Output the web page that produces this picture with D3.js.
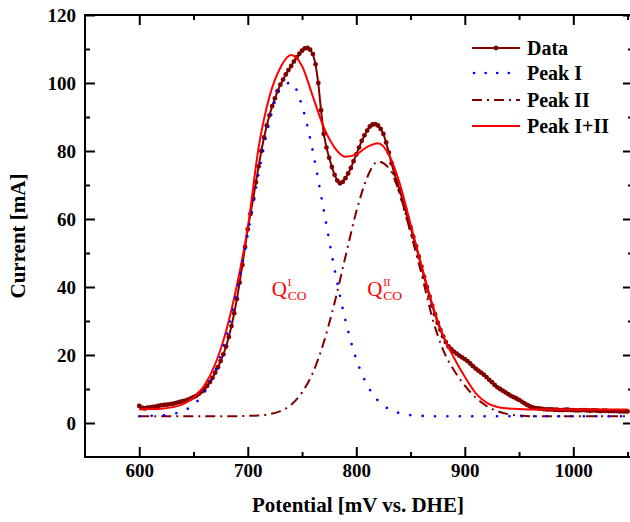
<!DOCTYPE html>
<html>
<head>
<meta charset="utf-8">
<script src="https://cdn.jsdelivr.net/npm/d3@7"></script>
<style>
body { margin: 0; background: #fff; }
</style>
</head>
<body>
<div id="chart"></div>
<script>
// chart values
var dataPts = [
  [600,5.0],[602.5,4.5],[605,4.3],[607.5,4.5],[610,4.6],[612.5,4.7],[615,4.8],[617.5,5.0],[620,5.2],[622.5,5.3],
  [625,5.4],[627.5,5.5],[630,5.6],[632.5,5.8],[635,6.0],[637.5,6.2],[640,6.4],[642.5,6.6],[645,6.9],[647.5,7.2],
  [650,7.6],[652.5,8.0],[655,8.6],[657.5,9.2],[660,10.0],[662.5,10.9],[665,12.0],[667.5,13.3],[670,14.8],[672.5,16.4],
  [675,18.2],[677.5,20.2],[680,22.5],[682.5,25.3],[685,28.5],[687.5,32.3],[690,36.5],[692.5,41.3],[695,46.5],[697.5,51.8],
  [700,57.0],[702.5,61.5],[705,66.0],[707.5,70.8],[710,75.5],[712.5,80.0],[715,84.0],[717.5,87.5],[720,90.5],[722.5,93.2],
  [725,95.5],[727.5,97.6],[730,99.5],[732.5,101.0],[735,102.5],[737.5,103.8],[740,105.0],[742.5,106.3],[745,107.5],[747.5,108.6],
  [750,109.5],[752.5,110.2],[755,110.3],[757.5,109.8],[760,108.5],[762.5,105.5],[765,100.0],[767.5,92.0],[770,85.0],[772.5,81.0],
  [775,78.0],[777.5,75.3],[780,73.0],[782.5,71.3],[785,70.5],[787.5,70.9],[790,72.0],[792.5,73.4],[795,75.0],[797.5,77.0],
  [800,79.0],[802.5,81.0],[805,83.0],[807.5,84.6],[810,86.0],[812.5,87.2],[815,87.8],[817.5,87.9],[820,87.5],[822.5,86.5],
  [825,85.0],[827.5,82.5],[830,79.5],[832.5,76.4],[835,73.5],[837.5,71.0],[840,68.5],[842.5,65.8],[845,63.0],[847.5,60.2],
  [850,57.5],[852.5,54.8],[855,52.0],[857.5,49.0],[860,46.0],[862.5,43.0],[865,40.0],[867.5,37.2],[870,34.5],[872.5,32.0],
  [875,29.5],[877.5,27.4],[880,25.5],[882.5,23.8],[885,22.5],[887.5,21.7],[890,21.0],[892.5,20.4],[895,19.8],[897.5,19.3],
  [900,18.8],[902.5,18.2],[905,17.5],[907.5,16.7],[910,16.0],[912.5,15.4],[915,14.8],[917.5,14.2],[920,13.5],[922.5,12.7],
  [925,12.0],[927.5,11.2],[930,10.5],[932.5,10.0],[935,9.5],[937.5,9.0],[940,8.5],[942.5,8.0],[945,7.6],[947.5,7.2],
  [950,6.8],[952.5,6.3],[955,5.8],[957.5,5.3],[960,4.9],[962.5,4.6],[965,4.4],[967.5,4.3],[970,4.2],[972.5,4.1],
  [975,4.0],[977.5,4.0],[980,4.0],[982.5,3.9],[985,3.9],[987.5,3.8],[990,3.8],[992.5,3.9],[995,3.9],[997.5,3.8],
  [1000,3.8],[1002.5,3.7],[1005,3.7],[1007.5,3.8],[1010,3.8],[1012.5,3.7],[1015,3.6],[1017.5,3.7],[1020,3.7],[1022.5,3.6],
  [1025,3.5],[1027.5,3.6],[1030,3.6],[1032.5,3.5],[1035,3.5],[1037.5,3.5],[1040,3.5],[1042.5,3.4],[1045,3.4],[1047.5,3.4],
  [1050,3.4]
];

var peak1Pts = [
  [600,2.0],[610,2.1],[620,2.2],[630,2.6],[640,3.5],[650,5.4],[660,9.0],[670,15.3],[680,25.2],[690,38.8],
  [700,55.5],[710,73.2],[720,88.6],[730,98.4],[740,100.1],[750,93.3],[760,79.8],[770,62.6],[780,45.2],[790,30.2],
  [800,18.8],[810,11.2],[820,6.6],[830,4.1],[840,2.9],[850,2.3],[860,2.1],[870,2.0],[900,2.0],[950,2.0],
  [1000,2.0],[1050,2.0]
];

var peak2Pts = [
  [600,2.0],[650,2.0],[690,2.0],[700,2.1],[710,2.2],[720,2.6],[730,3.5],[740,5.4],[750,9.0],[760,14.8],
  [770,23.7],[780,35.4],[790,48.9],[800,62.1],[810,72.2],[820,76.9],[830,75.0],[840,67.5],[850,56.0],[860,44.0],
  [870,31.0],[880,21.5],[890,15.5],[900,11.0],[910,7.5],[920,5.0],[930,3.5],[940,2.6],[950,2.2],[960,2.0],
  [1000,2.0],[1050,2.0]
];

var fitPts = [
  [600,4.0],[610,4.1],[620,4.2],[630,4.6],[640,5.5],[650,7.4],[660,11.0],[670,17.3],[680,27.0],[690,40.5],
  [700,57.5],[710,81.0],[720,96.0],[730,104.5],[740,108.2],[750,105.0],[760,96.0],[770,87.0],[780,81.0],[790,78.3],
  [800,79.0],[810,81.2],[820,82.3],[830,79.0],[840,70.5],[850,58.5],[860,46.5],[870,35.0],[880,25.8],[890,19.2],
  [900,13.6],[910,8.8],[920,6.0],[930,4.7],[940,4.3],[950,4.1],[960,4.0],[1000,4.0],[1050,4.0]
];

var xMajor = [600, 700, 800, 900, 1000];
var xMinor = [650, 750, 850, 950, 1050];
var yMajor = [0, 20, 40, 60, 80, 100, 120];
var yMinor = [10, 30, 50, 70, 90, 110];

var seriesNames = ["Data", "Peak I", "Peak II", "Peak I+II"];

var serif = "'Liberation Serif', 'Times New Roman', serif";

var svg = d3.select("#chart")
    .append("svg")
    .attr("width", 630)
    .attr("height", 522);

//scales
var x = d3.scaleLinear().domain([550, 1055]).range([85, 633]);
var y = d3.scaleLinear().domain([-10, 120]).range([457, 15]);

//axes
function styleAxis(g) {
    g.select(".domain").remove();
    g.attr("font-family", serif).attr("font-size", 19).attr("font-weight", "bold");
    g.selectAll("line").attr("stroke-width", 2);
}

svg.append("g").attr("transform", "translate(0,457)")
    .call(d3.axisBottom(x).tickValues(xMajor).tickSize(-10).tickSizeOuter(0).tickPadding(7).tickFormat(d3.format("d")))
    .call(styleAxis);
svg.append("g").attr("transform", "translate(0,457)")
    .call(d3.axisBottom(x).tickValues(xMinor).tickSize(-5).tickFormat(""))
    .call(styleAxis);
svg.append("g").attr("transform", "translate(0,15)")
    .call(d3.axisTop(x).tickValues(xMajor).tickSize(-10).tickFormat(""))
    .call(styleAxis);
svg.append("g").attr("transform", "translate(0,15)")
    .call(d3.axisTop(x).tickValues(xMinor).tickSize(-5).tickFormat(""))
    .call(styleAxis);

svg.append("g").attr("transform", "translate(85,0)")
    .call(d3.axisLeft(y).tickValues(yMajor).tickSize(-10).tickPadding(9))
    .call(styleAxis);
svg.append("g").attr("transform", "translate(85,0)")
    .call(d3.axisLeft(y).tickValues(yMinor).tickSize(-5).tickFormat(""))
    .call(styleAxis);
svg.append("g").attr("transform", "translate(633,0)")
    .call(d3.axisRight(y).tickValues(yMajor).tickSize(-10).tickFormat(""))
    .call(styleAxis);
svg.append("g").attr("transform", "translate(633,0)")
    .call(d3.axisRight(y).tickValues(yMinor).tickSize(-5).tickFormat(""))
    .call(styleAxis);

//frame
svg.append("rect")
    .attr("x", 85).attr("y", 15)
    .attr("width", 548).attr("height", 442)
    .attr("fill", "none")
    .attr("stroke", "black")
    .attr("stroke-width", 2);

//axis titles
svg.append("text")
    .attr("x", 358).attr("y", 512)
    .attr("text-anchor", "middle")
    .attr("font-family", serif).attr("font-weight", "bold").attr("font-size", 21)
    .text("Potential [mV vs. DHE]");

svg.append("text")
    .attr("transform", "translate(25,236) rotate(-90)")
    .attr("text-anchor", "middle")
    .attr("font-family", serif).attr("font-weight", "bold").attr("font-size", 21)
    .text("Current [mA]");

//curves
var line = d3.line()
    .x(d => x(d[0]))
    .y(d => y(d[1]));
var smooth = d3.line()
    .curve(d3.curveMonotoneX)
    .x(d => x(d[0]))
    .y(d => y(d[1]));

var dark = "#800000";

svg.append("path")
    .attr("d", line(dataPts))
    .attr("fill", "none")
    .attr("stroke", dark)
    .attr("stroke-width", 2);

svg.selectAll(".dataDot")
    .data(dataPts)
    .enter()
    .append("circle")
    .attr("class", "dataDot")
    .attr("cx", d => x(d[0]))
    .attr("cy", d => y(d[1]))
    .attr("r", 2.4)
    .attr("fill", dark);

svg.append("path")
    .attr("d", smooth(fitPts))
    .attr("fill", "none")
    .attr("stroke", "#ff0000")
    .attr("stroke-width", 2);

svg.append("path")
    .attr("d", smooth(peak2Pts))
    .attr("fill", "none")
    .attr("stroke", dark)
    .attr("stroke-width", 2)
    .attr("stroke-dasharray", "10,5,2,5");

svg.append("path")
    .attr("d", smooth(peak1Pts))
    .attr("fill", "none")
    .attr("stroke", "#0000ff")
    .attr("stroke-width", 2.6)
    .attr("stroke-linecap", "round")
    .attr("stroke-dasharray", "0.1,12.3");

//annotations
function qLabel(px, py, sup) {
    var g = svg.append("g")
        .attr("transform", `translate(${x(px)}, ${y(py)})`)
        .attr("fill", "#ff0000")
        .attr("font-family", serif);
    g.append("text").attr("font-size", 21).text("Q");
    g.append("text").attr("x", 16).attr("y", -10).attr("font-size", 11).text(sup);
    g.append("text").attr("x", 16).attr("y", 4.5).attr("font-size", 13.5).text("CO");
}
qLabel(722, 37.5, "I");
qLabel(810, 37.5, "II");

//legend
var legend = svg.append("g").attr("transform", "translate(472,48)");
seriesNames.forEach(function(name, i) {
    var row = legend.append("g").attr("transform", `translate(0, ${[0, 25, 52, 78][i]})`);
    var ln = row.append("line").attr("x1", 0).attr("x2", 48).attr("y1", 0).attr("y2", 0)
        .attr("stroke-width", 2);
    if (i == 0) {
        ln.attr("stroke", dark);
        row.append("circle").attr("cx", 24).attr("cy", 0).attr("r", 2.4).attr("fill", dark);
    } else if (i == 1) {
        ln.attr("stroke", "#0000ff").attr("stroke-width", 2.6).attr("stroke-linecap", "round")
          .attr("stroke-dasharray", "0.1,11.5").attr("x1", 2);
    } else if (i == 2) {
        ln.attr("stroke", dark).attr("stroke-dasharray", "10,5,2,5");
    } else {
        ln.attr("stroke", "#ff0000");
    }
    row.append("text")
        .attr("x", 55).attr("y", 7)
        .attr("font-family", serif).attr("font-weight", "bold").attr("font-size", 20)
        .text(name);
});
</script>
</body>
</html>
